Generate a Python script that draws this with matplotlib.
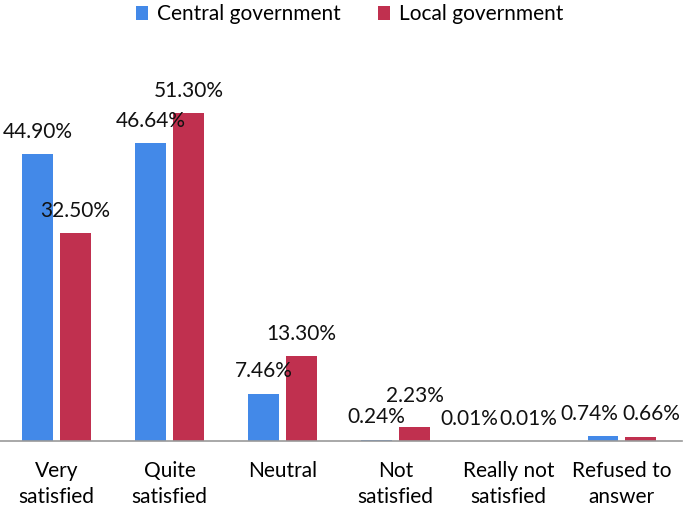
import numpy as np
import matplotlib.pyplot as plt

categories = ['Very\nsatisfied', 'Quite\nsatisfied', 'Neutral', 'Not\nsatisfied',
              'Really not\nsatisfied', 'Refused to\nanswer']
central = [44.90, 46.64, 7.46, 0.24, 0.01, 0.74]
local = [32.50, 51.30, 13.30, 2.23, 0.01, 0.66]

# nudges (pixels) so crowded labels don't collide
nudge_central = [(0, 0), (0, 0), (0, 0), (0, 0), (-20, 0), (-13, 0)]
nudge_local = [(0, 0), (0, 0), (0, 0), (0, 8), (1, 0), (11, 0)]

plt.rcParams['font.family'] = ['Lato', 'DejaVu Sans']

fig = plt.figure(figsize=(6.85, 5.13), dpi=100)
ax = fig.add_axes([0.0, 0.14, 0.995, 0.745])

x = np.arange(len(categories))
w = 0.27
off = 0.167
b1 = ax.bar(x - off, central, w, color='#4389E8', label='Central government')
b2 = ax.bar(x + off, local, w, color='#C0304F', label='Local government')

for bars, vals, nud in [(b1, central, nudge_central), (b2, local, nudge_local)]:
    for b, v, (dx, dy) in zip(bars, vals, nud):
        ax.annotate('{:.2f}%'.format(v), (b.get_x() + b.get_width() / 2, v),
                    xytext=(dx * 0.72, 9 + dy * 0.72), textcoords='offset points',
                    ha='center', va='bottom', fontsize=15, color='#111111')

ax.set_xlim(-0.5, len(categories) - 0.47)
ax.set_ylim(0, 59.8)
ax.set_xticks(x)
ax.set_xticklabels(categories, fontsize=15, linespacing=1.4)
ax.tick_params(axis='x', length=0, pad=14)
ax.set_yticks([])
for s in ['top', 'right', 'left']:
    ax.spines[s].set_visible(False)
ax.spines['bottom'].set_color('#999999')
ax.spines['bottom'].set_linewidth(1.2)

fig.legend(loc='upper center', bbox_to_anchor=(0.51, 1.028), ncol=2, frameon=False,
           fontsize=15, handlelength=0.6, handleheight=0.6, columnspacing=1.8,
           handletextpad=0.4)

fig.savefig('out.png', dpi=100)
